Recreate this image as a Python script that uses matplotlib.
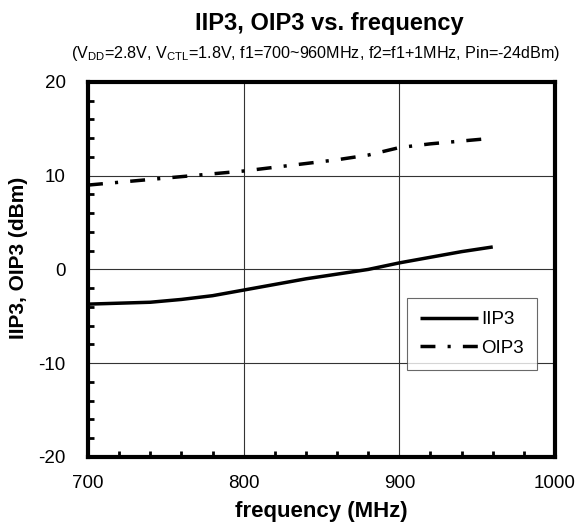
import matplotlib
matplotlib.use("Agg")
from matplotlib import pyplot as plt
from matplotlib.ticker import MultipleLocator

plt.rcParams['font.family'] = ['Liberation Sans', 'DejaVu Sans']
plt.rcParams['mathtext.fontset'] = 'custom'
plt.rcParams['mathtext.rm'] = 'Liberation Sans'
plt.rcParams['axes.unicode_minus'] = False

freq = [700, 720, 740, 760, 780, 800, 820, 840, 860, 880, 900, 920, 940, 960]
iip3 = [-3.7, -3.6, -3.5, -3.2, -2.8, -2.2, -1.6, -1.0, -0.5, 0.0, 0.7, 1.3, 1.9, 2.4]
oip3 = [9.0, 9.3, 9.6, 9.9, 10.2, 10.5, 10.9, 11.3, 11.7, 12.2, 13.0, 13.4, 13.7, 14.0]

fig = plt.figure(figsize=(5.79, 5.24), dpi=100)
ax = fig.add_axes([0.152, 0.128, 0.8066, 0.7156])

ax.plot(freq, iip3, color='black', lw=2.5, label='IIP3', solid_capstyle='butt')
ax.plot(freq, oip3, color='black', lw=2.5, label='OIP3',
        dashes=(4.3, 3.5, 0.9, 3.5))

ax.set_xlim(700, 1000)
ax.set_ylim(-20, 20)
ax.xaxis.set_major_locator(MultipleLocator(100))
ax.yaxis.set_major_locator(MultipleLocator(10))
ax.xaxis.set_minor_locator(MultipleLocator(20))
ax.yaxis.set_minor_locator(MultipleLocator(2))
ax.tick_params(which='both', direction='in', width=2, labelsize=13.5)
ax.tick_params(which='major', length=0)
ax.tick_params(axis='y', which='major', pad=16)
ax.tick_params(axis='x', which='major', pad=13)
ax.tick_params(which='minor', length=4)
ax.grid(True, which='major', color='#333333', lw=0.8)
for s in ax.spines.values():
    s.set_linewidth(3)

ax.set_xlabel('frequency (MHz)', fontsize=16, fontweight='bold')
ax.xaxis.set_label_coords(0.5, -0.118)
ax.set_ylabel('IIP3, OIP3 (dBm)', fontsize=15, fontweight='bold')
ax.yaxis.set_label_coords(-0.128, 0.53)

fig.text(0.568, 0.956, 'IIP3, OIP3 vs. frequency', ha='center', va='center',
         fontsize=17, fontweight='bold')
fig.text(0.545, 0.898,
         r'(V$_{\rm DD}$=2.8V, V$_{\rm CTL}$=1.8V, f1=700~960MHz, '
         r'f2=f1+1MHz, Pin=-24dBm)',
         ha='center', va='center', fontsize=11.6)

leg = ax.legend(loc='upper left', bbox_to_anchor=(0.683, 0.424), fontsize=13.5,
                frameon=True, fancybox=False, handlelength=3.1,
                handletextpad=0.15, labelspacing=0.6, borderpad=0.7,
                borderaxespad=0)
leg.get_frame().set_edgecolor('#444444')
leg.get_frame().set_linewidth(0.8)

fig.savefig('out.png', dpi=100)
